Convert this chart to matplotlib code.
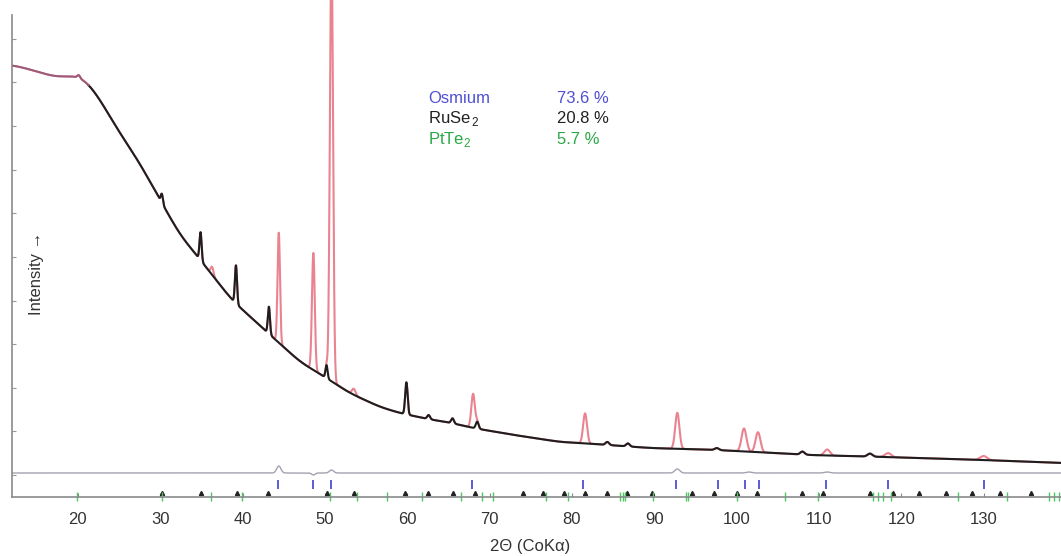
import numpy as np
import matplotlib
matplotlib.use('Agg')
import matplotlib.pyplot as plt

plt.rcParams['font.family'] = ['Liberation Sans', 'DejaVu Sans']
plt.rcParams['mathtext.fontset'] = 'custom'
plt.rcParams['mathtext.rm'] = 'Liberation Sans'

# background (2theta, counts)
bg_x = [12, 14, 16, 17.5, 19, 20, 21, 22, 23, 24, 25.1, 27.5, 30, 32.4, 34.6, 38.7,
        43.1, 47, 50, 53, 56.7, 59.1, 62.5, 65.4, 68, 73, 78.6, 81, 89.5, 97.6,
        108.9, 118, 130, 139.4]
bg_y = [432, 428, 423, 420, 421, 421, 416, 406, 393, 379, 364, 334, 297, 262, 240, 197,
        164, 135, 120, 104, 90, 84, 78, 74, 69, 62, 55, 54, 49, 47,
        42, 40, 37, 34]

# Osmium reflections (pink profile)
os_pos = [36.3, 44.4, 48.6, 50.8, 53.5, 68.0, 81.6, 92.8, 100.9, 102.6, 111.0, 118.4, 130.0]
os_height = [8, 110, 117, 430, 6, 34, 30, 36, 23, 20, 6, 4, 4]
os_fwhm = [0.4, 0.35, 0.4, 0.45, 0.5, 0.5, 0.55, 0.6, 0.7, 0.7, 0.8, 0.9, 1.0]

# RuSe2 / PtTe2 reflections (black profile)
ru_pos = [20.1, 30.2, 34.9, 39.2, 43.2, 50.2, 59.9, 62.6, 65.5, 68.5, 84.3, 86.8, 97.6, 108.0, 116.2]
ru_height = [3, 9, 28, 38, 27, 13, 32, 4, 5, 7, 3, 3, 2, 3, 3]
ru_fwhm = [0.4, 0.3, 0.3, 0.3, 0.3, 0.3, 0.35, 0.4, 0.4, 0.4, 0.5, 0.5, 0.6, 0.6, 0.7]

# difference curve residuals
diff_base = 24
diff_pos = [44.4, 48.6, 50.8, 92.8, 101.5, 111.0]
diff_amp = [7, -2, 3, 4, 1, 1]
diff_fwhm = [0.6, 0.5, 0.6, 0.7, 0.8, 0.8]

# reflection markers
os_ticks = [44.3, 48.6, 50.8, 67.9, 81.4, 92.7, 97.8, 101.0, 102.7, 110.9, 118.4, 130.0]
ru_ticks = [30.2, 34.9, 39.3, 43.1, 50.2, 53.5, 59.7, 62.5, 65.6, 68.2, 74.0, 76.5, 79.0,
            81.6, 84.3, 86.7, 89.7, 94.6, 97.2, 100.1, 102.5, 108.0, 110.5, 116.2, 119.0,
            122.1, 125.4, 128.6, 132.0, 135.7]
pt_ticks = [19.9, 30.2, 36.2, 39.9, 50.6, 53.9, 57.5, 61.8, 66.5, 69.1, 70.4, 76.8, 79.5,
            85.9, 86.2, 86.5, 89.9, 93.8, 94.1, 100.1, 105.9, 109.9, 116.6, 117.2, 117.8,
            118.7, 126.9, 132.9, 137.9, 138.5, 139.1]

phases = ['Osmium', r'RuSe$_{\mathregular{\,2}}$', r'PtTe$_{\mathregular{2}}$']
fractions = ['73.6 %', '20.8 %', '5.7 %']
phase_colors = ['#4f4fd6', '#222222', '#2aa845']


def profile(x, pos, height, fwhm):
    out = np.zeros_like(x)
    for p, h, w in zip(pos, height, fwhm):
        s = w / 2.355
        out += h * np.exp(-0.5 * ((x - p) / s) ** 2)
    return out


x = np.linspace(12, 139.4, 8000)
dx = x[1] - x[0]
bg = np.interp(x, bg_x, bg_y)
# soften the corners of the background polyline
k = np.arange(-int(2.4 / dx), int(2.4 / dx) + 1) * dx
kern = np.exp(-0.5 * (k / 0.8) ** 2)
kern /= kern.sum()
pad = len(k) // 2
bg = np.convolve(np.pad(bg, pad, mode='edge'), kern, mode='valid')

black = bg + profile(x, ru_pos, ru_height, ru_fwhm)
pink = black + profile(x, os_pos, os_height, os_fwhm)
diff = diff_base + profile(x, diff_pos, diff_amp, diff_fwhm)

fig = plt.figure(figsize=(10.61, 5.56), dpi=100)
ax = fig.add_axes([12 / 1061, 59 / 556, 1049 / 1061, 497 / 556])

ax.plot(x, pink, color='#ea8390', lw=1.5)
m = x > 21.3
ax.plot(x[m], black[m], color='#1e1e1e', lw=1.5)
ax.plot(x[~m], black[~m], color='#9a5a7a', lw=1.4)
ax.plot(x, diff, color='#a4a2b0', lw=1.0)

ax.vlines(os_ticks, 8, 17, color='#4040d0', lw=1.2)
ax.plot(ru_ticks, [4.5] * len(ru_ticks), ls='none', marker='^', ms=3, color='#222222')
ax.vlines(pt_ticks, -4, 5, color='#4cc860', lw=1.0, clip_on=False)

for i in range(3):
    y = 0.823 - i * 0.037
    fig.text(428 / 1061, y, phases[i], color=phase_colors[i], fontsize=12, va='center')
    fig.text(557 / 1061, y, fractions[i], color=phase_colors[i], fontsize=12, va='center')

ax.set_xlim(12, 139.4)
ax.set_ylim(0, 497)
ax.set_xticks(range(20, 140, 10))
ax.set_yticks([22, 66, 109, 153, 196, 240, 284, 327, 371, 415, 458])
ax.set_yticklabels([])
ax.tick_params(axis='x', direction='in', length=3, pad=11, labelsize=12, color='#888888',
               labelcolor='#333333')
ax.tick_params(axis='y', direction='in', length=3, color='#999999')
for s in ['top', 'right']:
    ax.spines[s].set_visible(False)
for s in ['left', 'bottom']:
    ax.spines[s].set_color('#8a8a8a')
    ax.spines[s].set_linewidth(1.2)
ax.spines['left'].set_bounds(0, 482)

ax.text(0.023, 0.45, 'Intensity \u2192', rotation=90, transform=ax.transAxes,
        ha='center', va='center', fontsize=12, color='#333333')
fig.text(0.4995, 0.017, '2\u0398 (CoK\u03b1)', ha='center', va='center', fontsize=12,
         color='#333333')

fig.savefig('out.png', dpi=100)
